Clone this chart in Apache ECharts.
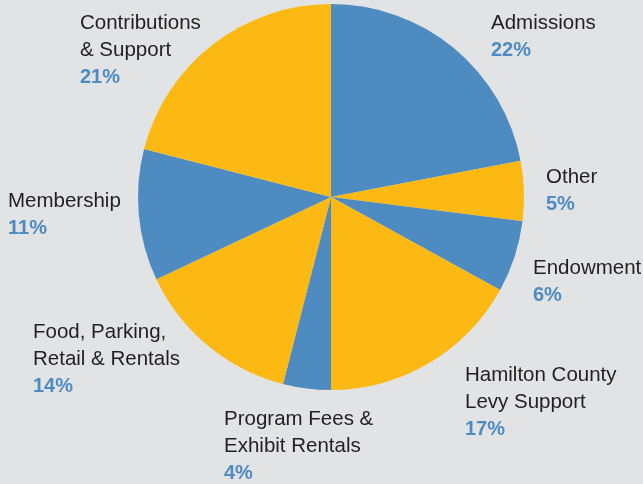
<!DOCTYPE html>
<html>
<head>
<meta charset="utf-8">
<script src="https://cdn.jsdelivr.net/npm/echarts@6/dist/echarts.min.js"></script>
<style>
html,body{margin:0;padding:0;background:#e2e3e5;}
#c{width:643px;height:484px;}
</style>
</head>
<body>
<div id="c"></div>
<script>
var categories = ["Admissions", "Other", "Endowment", "Hamilton County\nLevy Support", "Program Fees &\nExhibit Rentals", "Food, Parking,\nRetail & Rentals", "Membership", "Contributions\n& Support"];
var values = [22, 5, 6, 17, 4, 14, 11, 21];

var BLUE = "#4e8bc1", YELLOW = "#fdb913";
var chart = echarts.init(document.getElementById('c'));
var anchors = [[491,10],[546,164],[533,255],[465,362],[224,406],[33,319],[8,188],[80,10]];
chart.setOption({
  backgroundColor: "#e2e3e5",
  animation: false,
  series: [{
    type: 'pie',
    center: [331, 197],
    radius: [0, 193],
    startAngle: 90,
    clockwise: true,
    data: categories.map(function (n, i) {
      return { name: n, value: values[i], itemStyle: { color: i % 2 === 0 ? BLUE : YELLOW } };
    }),
    labelLine: { show: false },
    label: {
      show: true,
      position: 'outside',
      alignTo: 'none',
      overflow: 'none',
      width: 300,
      align: 'left',
      formatter: function (p) {
        var lines = p.name.split("\n").map(function (s) { return "{n|" + s + "}"; });
        lines.push("{p|" + p.value + "%}");
        return lines.join("\n");
      },
      rich: {
        n: { fontFamily: "Liberation Sans, Arial, sans-serif", fontSize: 20.5, color: "#231f20", lineHeight: 27 },
        p: { fontFamily: "Liberation Sans, Arial, sans-serif", fontSize: 20, fontWeight: "bold", color: BLUE, lineHeight: 27 }
      }
    },
    labelLayout: function (params) {
      var a = anchors[params.dataIndex];
      return { x: a[0], y: a[1], align: 'left', verticalAlign: 'top', hideOverlap: false, moveOverlap: false };
    }
  }]
});
</script>
</body>
</html>
